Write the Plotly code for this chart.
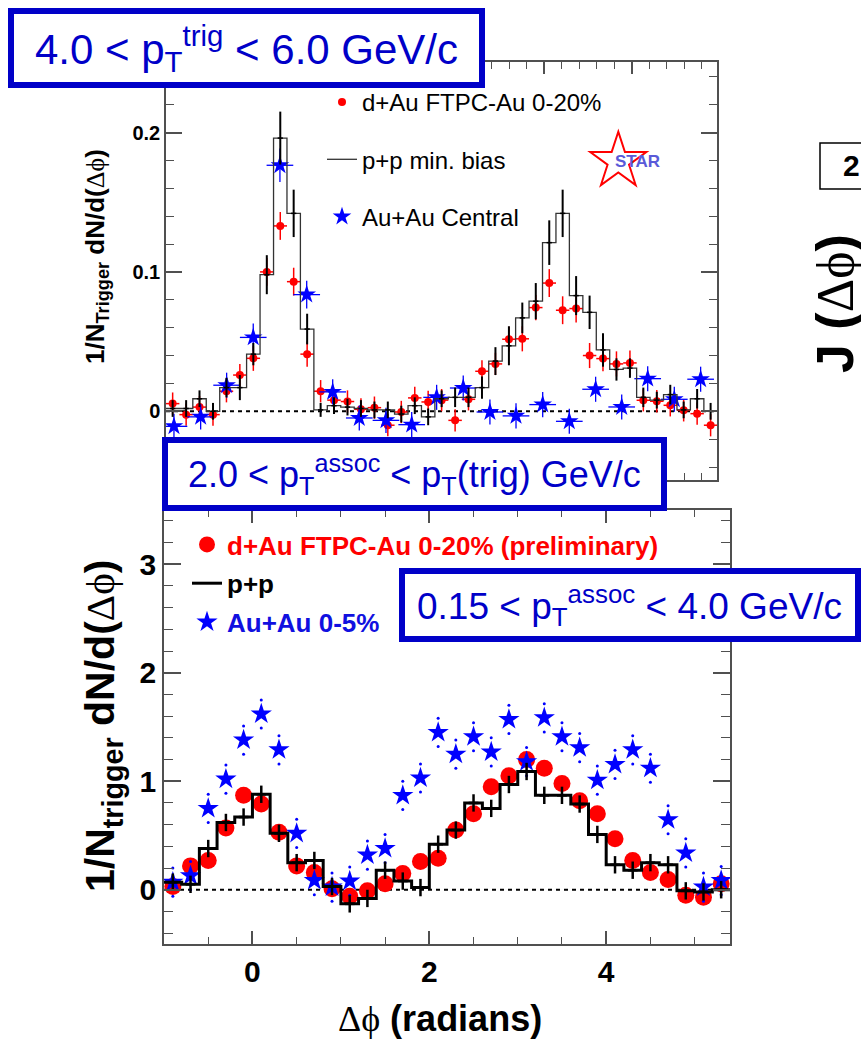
import math
import plotly.graph_objects as go

W, H = 861, 1039
FONT = "Liberation Sans, Arial, Helvetica, sans-serif"

# ---------------- top panel (4.0 < pT trig < 6.0, 2.0 < pT assoc < pT trig) ----------------
top_phi = [-1.247, -1.093, -0.940, -0.786, -0.632, -0.479, -0.325, -0.171, -0.017, 0.136,
           0.290, 0.444, 0.597, 0.751, 0.905, 1.059, 1.212, 1.366, 1.520, 1.673,
           1.827, 1.981, 2.134, 2.288, 2.442, 2.596, 2.749, 2.903, 3.057, 3.210,
           3.364, 3.518, 3.671, 3.825, 3.979, 4.132, 4.286, 4.440, 4.593, 4.747, 4.901]
top_pp = [0.002, 0.002, 0.009, 0.000, 0.017, 0.017, 0.041, 0.098, 0.196, 0.142,
          0.059, 0.001, 0.004, 0.003, 0.002, 0.001, 0.001, -0.002, 0.004, -0.004,
          0.009, 0.010, 0.010, 0.017, 0.036, 0.047, 0.067, 0.079, 0.121, 0.142,
          0.083, 0.071, 0.044, 0.030, 0.031, 0.010, 0.008, 0.012, 0.001, 0.009, 0.000]
top_pp_err = [0.006, 0.006, 0.006, 0.006, 0.007, 0.009, 0.008, 0.014, 0.019, 0.017,
              0.011, 0.005, 0.006, 0.006, 0.006, 0.006, 0.006, 0.006, 0.006, 0.006,
              0.006, 0.007, 0.007, 0.008, 0.010, 0.014, 0.011, 0.013, 0.016, 0.017,
              0.014, 0.012, 0.012, 0.008, 0.007, 0.007, 0.006, 0.007, 0.006, 0.007, 0.006]
top_dau = [0.0055, -0.0024, 0.003, -0.0024, 0.0144, 0.026, 0.038, 0.100, 0.133, 0.093,
           0.041, 0.0144, 0.008, 0.007, 0.0014, 0.0026, -0.010, -0.0005, 0.0096, 0.0067,
           0.008, -0.0065, 0.0086, 0.0287, 0.034, 0.0517, 0.052, 0.0744, 0.092, 0.0725,
           0.0737, 0.040, 0.0378, 0.034, 0.0347, 0.0079, 0.0072, 0.0043, 0.0007, -0.0017, -0.010]
top_dau_err = [0.008, 0.008, 0.008, 0.008, 0.008, 0.008, 0.009, 0.010, 0.010, 0.010,
               0.009, 0.008, 0.008, 0.008, 0.008, 0.008, 0.008, 0.008, 0.008, 0.008,
               0.008, 0.008, 0.008, 0.008, 0.008, 0.009, 0.009, 0.009, 0.010, 0.010,
               0.010, 0.009, 0.009, 0.009, 0.009, 0.008, 0.008, 0.008, 0.008, 0.008, 0.008]
top_auau_phi = [-1.232, -0.927, -0.630, -0.326, -0.021, 0.285, 0.582, 0.886, 1.191, 1.485,
                1.770, 2.074, 2.379, 2.677, 2.982, 3.286, 3.587, 3.885, 4.182, 4.486, 4.787]
top_auau = [-0.0108, -0.004, 0.0187, 0.053, 0.1765, 0.0837, 0.0139, -0.0048, -0.0065, -0.0096,
            0.0100, 0.0167, -0.0005, -0.0033, 0.0048, -0.0072, 0.0158, 0.0031, 0.0234, 0.0086, 0.023]
top_auau_err = [0.009, 0.009, 0.009, 0.010, 0.012, 0.010, 0.009, 0.009, 0.009, 0.009,
                0.009, 0.009, 0.009, 0.009, 0.009, 0.009, 0.009, 0.009, 0.009, 0.009, 0.009]

# ---------------- bottom panel (0.15 < pT assoc < 4.0) ----------------
bot_phi = [-0.9, -0.7, -0.5, -0.3, -0.1, 0.1, 0.3, 0.5, 0.7, 0.9, 1.1, 1.3, 1.5, 1.7, 1.9, 2.1,
           2.3, 2.5, 2.7, 2.9, 3.1, 3.3, 3.5, 3.7, 3.9, 4.1, 4.3, 4.5, 4.7, 4.9, 5.1, 5.3]
bot_pp = [0.07, 0.05, 0.38, 0.62, 0.67, 0.88, 0.52, 0.25, 0.27, 0.03, -0.13, -0.08, 0.18, 0.08, 0.02, 0.42,
          0.55, 0.80, 0.75, 0.97, 1.09, 0.87, 0.87, 0.79, 0.51, 0.23, 0.18, 0.25, 0.23, -0.01, -0.02, 0.0]
bot_pp_err = [0.08] * 32
bot_dau = [0.03, 0.22, 0.27, 0.57, 0.87, 0.79, 0.53, 0.22, 0.16, 0.01, -0.06, -0.01, 0.055, 0.15, 0.26, 0.29,
           0.55, 0.70, 0.95, 1.05, 1.20, 1.12, 0.98, 0.82, 0.70, 0.47, 0.27, 0.16, 0.095, -0.05, -0.07, 0.055]
bot_auau = [0.07, 0.13, 0.75, 1.02, 1.38, 1.62, 1.29, 0.52, 0.085, 0.025, 0.08, 0.32, 0.38, 0.87, 1.03, 1.45,
            1.25, 1.41, 1.27, 1.57, 1.18, 1.585, 1.41, 1.31, 1.01, 1.155, 1.29, 1.12, 0.645, 0.34, 0.025, 0.085]
bot_auau_err = [0.13] * 32

top_y_tickvals = [0, 0.1, 0.2]
top_y_ticktext = ["0", "0.1", "0.2"]
bot_x_tickvals = [0, 2, 4]
bot_x_ticktext = ["0", "2", "4"]
bot_y_tickvals = [0, 1, 2, 3]
bot_y_ticktext = ["0", "1", "2", "3"]

RED = "#FF0000"
BLUE = "#0000FF"
BOXBLUE = "#0000C8"
AXC = "#505050"


def px(x):
    return x / W


def py(y):
    return 1 - y / H


def edges(c):
    mids = [(a + b) / 2 for a, b in zip(c[:-1], c[1:])]
    return [c[0] - (c[1] - c[0]) / 2] + mids + [c[-1] + (c[-1] - c[-2]) / 2]


fig = go.Figure()

# ---------- top traces (added in drawing order; legend order via legendrank) ----------
top_half = (top_phi[1] - top_phi[0]) / 2
auau_half = (top_auau_phi[1] - top_auau_phi[0]) / 2
fig.add_trace(go.Scatter(
    x=top_phi, y=top_dau, mode="markers", name="d+Au FTPC-Au 0-20%",
    marker=dict(symbol="circle", size=8, color=RED),
    error_y=dict(type="data", array=top_dau_err, color=RED, thickness=1.5, width=0),
    error_x=dict(type="constant", value=top_half, color=RED, thickness=1.5, width=0),
    xaxis="x", yaxis="y", legend="legend", legendgroup="t1", legendrank=1))
fig.add_trace(go.Scatter(
    x=top_auau_phi, y=top_auau, mode="markers", name="Au+Au Central",
    marker=dict(symbol="star", size=14, color=BLUE),
    error_y=dict(type="data", array=top_auau_err, color=BLUE, thickness=1.3, width=0),
    error_x=dict(type="constant", value=auau_half, color=BLUE, thickness=1.3, width=0),
    xaxis="x", yaxis="y", legend="legend", legendgroup="t3", legendrank=3))
fig.add_trace(go.Scatter(
    x=edges(top_phi), y=top_pp + [top_pp[-1]], mode="lines", line_shape="hv",
    line=dict(color="#333333", width=1.3), name="p+p min. bias",
    xaxis="x", yaxis="y", legend="legend", legendgroup="t2", legendrank=2))
fig.add_trace(go.Scatter(
    x=top_phi, y=top_pp, mode="markers", showlegend=False,
    marker=dict(size=1, color="black"),
    error_y=dict(type="data", array=top_pp_err, color="black", thickness=2, width=0),
    error_x=dict(type="constant", value=0.03, color="black", thickness=1.5, width=0),
    xaxis="x", yaxis="y"))

# ---------- bottom traces ----------
fig.add_trace(go.Scatter(
    x=bot_phi, y=bot_dau, mode="markers",
    name="<b><span style='color:#FF0000'>d+Au FTPC-Au 0-20% (preliminary)</span></b>",
    marker=dict(symbol="circle", size=17, color=RED),
    xaxis="x2", yaxis="y2", legend="legend2", legendgroup="b1", legendrank=1))
fig.add_trace(go.Scatter(
    x=bot_phi, y=bot_auau, mode="markers",
    name="<b><span style='color:#1010E0'>Au+Au 0-5%</span></b>",
    marker=dict(symbol="star", size=16, color=BLUE),
    xaxis="x2", yaxis="y2", legend="legend2", legendgroup="b3", legendrank=3))
fig.add_trace(go.Scatter(
    x=bot_phi + bot_phi,
    y=[v + e for v, e in zip(bot_auau, bot_auau_err)] + [v - e for v, e in zip(bot_auau, bot_auau_err)],
    mode="markers", showlegend=False, marker=dict(symbol="circle", size=3, color=BLUE),
    xaxis="x2", yaxis="y2"))
fig.add_trace(go.Scatter(
    x=edges(bot_phi), y=bot_pp + [bot_pp[-1]], mode="lines", line_shape="hv",
    line=dict(color="black", width=3), name="<b>p+p</b>",
    xaxis="x2", yaxis="y2", legend="legend2", legendgroup="b2", legendrank=2))
fig.add_trace(go.Scatter(
    x=bot_phi, y=bot_pp, mode="markers", showlegend=False,
    marker=dict(size=1, color="black"),
    error_y=dict(type="data", array=bot_pp_err, color="black", thickness=2.5, width=0),
    error_x=dict(type="constant", value=0.055, color="black", thickness=2.5, width=0),
    xaxis="x2", yaxis="y2"))

axis_common = dict(showline=True, linecolor=AXC, linewidth=1.5, mirror="ticks",
                   ticks="inside", tickcolor=AXC, tickwidth=1.5,
                   showgrid=False, zeroline=False)

fig.update_layout(
    width=W, height=H, margin=dict(l=0, r=0, t=0, b=0),
    paper_bgcolor="white", plot_bgcolor="white",
    font=dict(family=FONT, color="black"),
    xaxis=dict(domain=[px(166), px(717)], range=[-1.323, 4.974], anchor="y",
               showticklabels=False, tickmode="linear", tick0=0, dtick=1, ticklen=12,
               minor=dict(ticks="inside", tickmode="linear", tick0=0, dtick=0.2, ticklen=7,
                          tickcolor=AXC, tickwidth=1.2),
               **axis_common),
    yaxis=dict(domain=[py(480), py(62)], range=[-0.0493, 0.2506], anchor="x",
               tickmode="array", tickvals=top_y_tickvals, ticktext=top_y_ticktext, ticklen=16,
               tickfont=dict(size=20, weight="bold", family=FONT),
               minor=dict(ticks="inside", tickmode="linear", tick0=0, dtick=0.02, ticklen=8,
                          tickcolor=AXC, tickwidth=1.2),
               **axis_common),
    xaxis2=dict(domain=[px(164), px(730)], range=[-1.0, 5.4], anchor="y2",
                tickmode="array", tickvals=bot_x_tickvals, ticktext=bot_x_ticktext, ticklen=13,
                tickfont=dict(size=30, weight="bold", family=FONT),
                minor=dict(ticks="inside", tickmode="linear", tick0=0, dtick=0.5, ticklen=7,
                           tickcolor=AXC, tickwidth=1.2),
                **axis_common),
    yaxis2=dict(domain=[py(944), py(510)], range=[-0.5, 3.5], anchor="x2",
                tickmode="array", tickvals=bot_y_tickvals, ticktext=bot_y_ticktext, ticklen=17,
                tickfont=dict(size=30, weight="bold", family=FONT),
                minor=dict(ticks="inside", tickmode="linear", tick0=0, dtick=0.2, ticklen=9,
                           tickcolor=AXC, tickwidth=1.2),
                **axis_common),
    legend=dict(x=px(322), y=py(80), xanchor="left", yanchor="top",
                font=dict(size=24, family=FONT, color="black"), bgcolor="rgba(0,0,0,0)",
                traceorder="grouped", tracegroupgap=23, itemsizing="trace"),
    legend2=dict(x=px(187), y=py(521), xanchor="left", yanchor="top",
                 font=dict(size=26, family=FONT, color="black"), bgcolor="rgba(0,0,0,0)",
                 traceorder="grouped", tracegroupgap=2, itemsizing="trace"),
)

shapes = []
# dotted zero lines
for xr, yr in (("x domain", "y"), ("x2 domain", "y2")):
    shapes.append(dict(type="line", xref=xr, yref=yr, x0=0, x1=1, y0=0, y1=0,
                       line=dict(color="black", width=2, dash="4px,4px"), layer="below"))
# blue label boxes
for (x0, y0, x1, y1) in ((11, 11, 482, 85), (165, 440, 664, 508), (402, 571, 858, 639)):
    shapes.append(dict(type="rect", xref="paper", yref="paper",
                       x0=px(x0), x1=px(x1), y0=py(y1), y1=py(y0),
                       fillcolor="white", line=dict(color=BOXBLUE, width=6), layer="above"))
# partial neighbouring panel label box
shapes.append(dict(type="rect", xref="paper", yref="paper", x0=px(820), x1=px(880),
                   y0=py(189), y1=py(143), fillcolor="white",
                   line=dict(color="black", width=1.5), layer="above"))
# STAR logo star outline
cx, cy, R, r = 618.3, 161.2, 29.5, 11.3
pts = []
for i in range(10):
    ang = math.pi / 2 + i * math.pi / 5
    rad = R if i % 2 == 0 else r
    pts.append((px(cx + rad * math.cos(ang)), py(cy - rad * math.sin(ang))))
path = "M " + " L ".join(f"{a:.5f},{b:.5f}" for a, b in pts) + " Z"
shapes.append(dict(type="path", xref="paper", yref="paper", path=path,
                   line=dict(color=RED, width=2), fillcolor="rgba(0,0,0,0)", layer="above"))
fig.update_layout(shapes=shapes)

SERIF = "Liberation Serif, DejaVu Serif, serif"
dphi = f"<span style='font-family:{SERIF};font-weight:normal'>Δϕ</span>"
ann = [
    dict(x=px(247), y=py(48), text="4.0 &lt; p<sub>T</sub><sup>trig</sup> &lt; 6.0 GeV/c",
         font=dict(size=42, color=BOXBLUE, family=FONT)),
    dict(x=px(414), y=py(474), text="2.0 &lt; p<sub>T</sub><sup>assoc</sup> &lt; p<sub>T</sub>(trig) GeV/c",
         font=dict(size=36, color=BOXBLUE, family=FONT)),
    dict(x=px(629), y=py(605), text="0.15 &lt; p<sub>T</sub><sup>assoc</sup> &lt; 4.0 GeV/c",
         font=dict(size=37, color=BOXBLUE, family=FONT)),
    dict(x=px(96), y=py(257), textangle=-90,
         text="<b>1/N<sub>Trigger</sub> dN/d(</b>" + dphi + "<b>)</b>",
         font=dict(size=26, color="black", family=FONT)),
    dict(x=px(103), y=py(726), textangle=-90,
         text="<b>1/N<sub>trigger</sub> dN/d(</b>" + dphi + "<b>)</b>",
         font=dict(size=41, color="black", family=FONT)),
    dict(x=px(440), y=py(1018), text=dphi + "<b> (radians)</b>",
         font=dict(size=36, color="black", family=FONT)),
    dict(x=px(637), y=py(161), text="<b>STAR</b>",
         font=dict(size=17, color="#5A5AD8", family=FONT)),
    dict(x=px(841), y=py(166), xanchor="left", text="<b>2.0</b>",
         font=dict(size=30, color="black", family=FONT)),
    dict(x=px(835), y=py(304), textangle=-90, text="<b>J (</b>" + dphi + "<b>)</b>",
         font=dict(size=52, color="black", family=FONT)),
]
for a in ann:
    a.setdefault("xref", "paper")
    a.setdefault("yref", "paper")
    a.setdefault("showarrow", False)
    a.setdefault("xanchor", "center")
    a.setdefault("yanchor", "middle")
fig.update_layout(annotations=ann)

fig.write_html("out.html")
